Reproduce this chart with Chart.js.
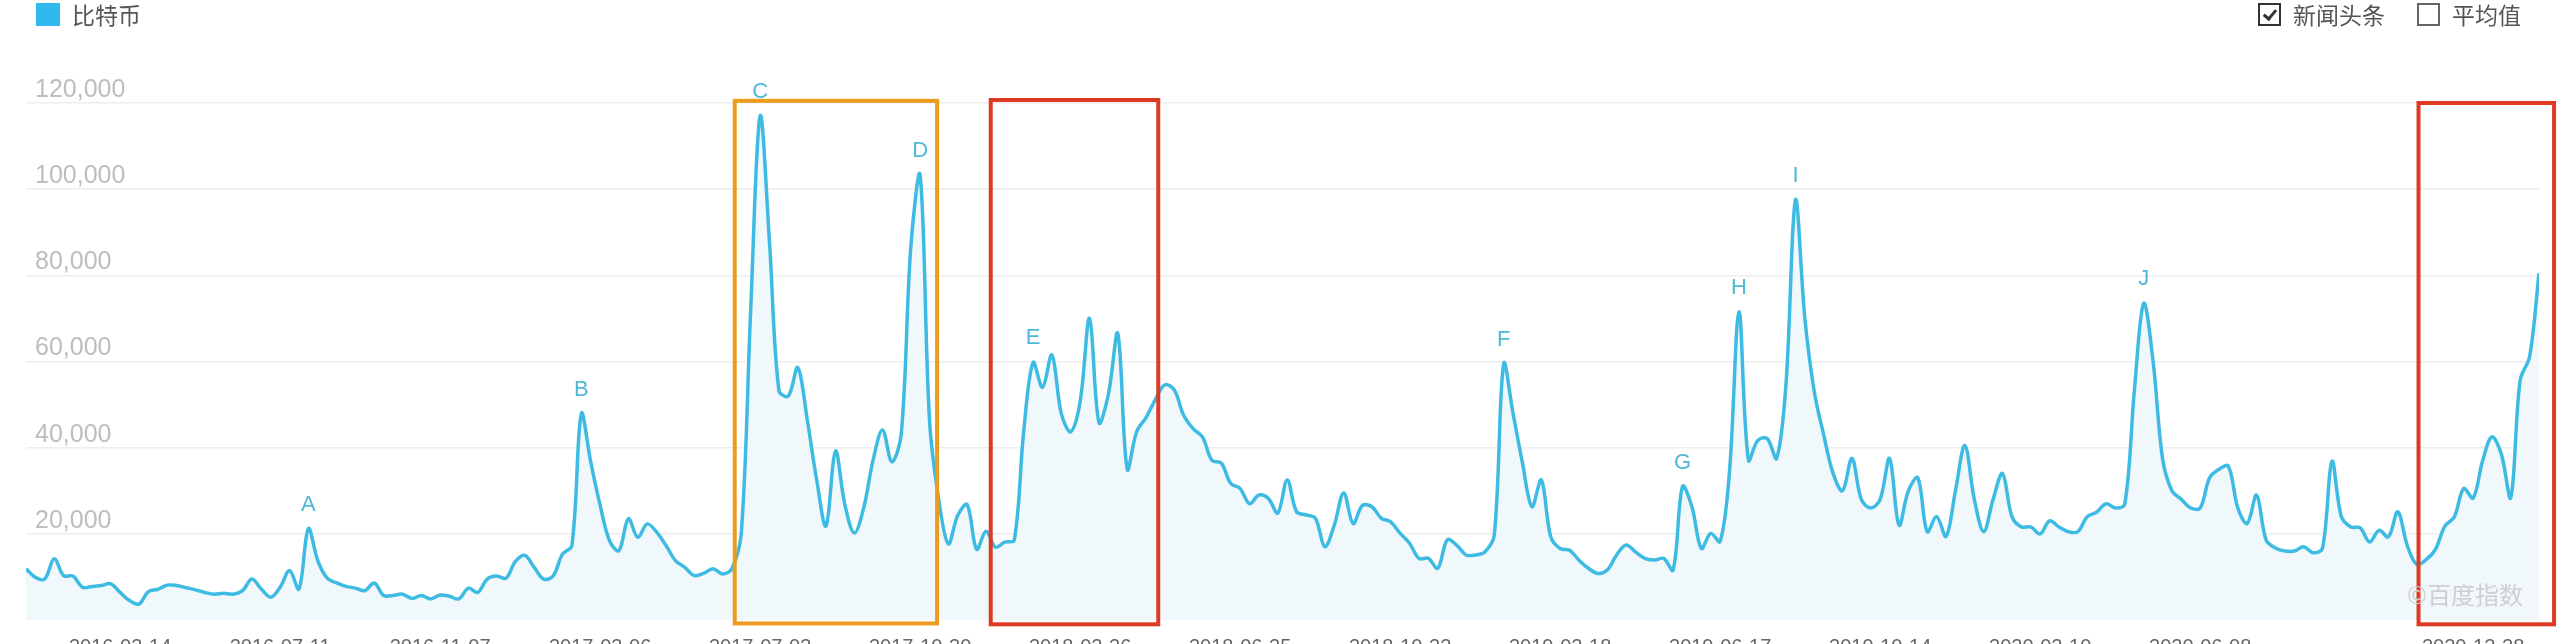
<!DOCTYPE html>
<html>
<head>
<meta charset="utf-8">
<script src="https://cdn.jsdelivr.net/npm/chart.js@4.4.1/dist/chart.umd.min.js"></script>
<style>
  html, body { margin: 0; padding: 0; background: #fff; }
  #wrap { position: relative; width: 2564px; height: 644px; overflow: hidden; }
  #chart { position: absolute; left: 0; top: 0; }
  .legend { position: absolute; left: 36px; top: 1px; height: 26px; display: flex; align-items: center;
    font: 23px "Noto Sans CJK SC", sans-serif; color: #555; }
  .sw { width: 24px; height: 23px; background: #30b8ef; margin-right: 12px; }
  .opts { position: absolute; left: 2258px; top: 1px; height: 26px; display: flex; align-items: center;
    font: 23px "Noto Sans CJK SC", sans-serif; color: #555; }
  .cb { box-sizing: border-box; width: 23px; height: 23px; border: 2px solid #333; margin-right: 12px; position: relative; }
  .cb.off { border-color: #666; margin-left: 32px; }
  .cb.on::after { content: ""; position: absolute; left: 6px; top: 2px; width: 5px; height: 10px;
    border: solid #333; border-width: 0 3px 3px 0; transform: rotate(40deg); }
  .mark { position: absolute; left: 2407px; top: 576px; font: 24px "Noto Sans CJK SC", sans-serif; color: #cfcfcf; }
</style>
</head>
<body>
<div id="wrap">
  <canvas id="chart" width="2564" height="644"></canvas>
  <div class="legend"><div class="sw"></div>比特币</div>
  <div class="opts"><div class="cb on"></div>新闻头条<div class="cb off"></div>平均值</div>
  <div class="mark">©百度指数</div>
</div>
<script>
// weekly search index, first week 2016-01-04
const values = [
  11900, 9900, 9500, 14200, 10300, 10200, 7600, 7800, 8000, 8400,
  6400, 4500, 3700, 6600, 7100, 8100, 8000, 7500, 7000, 6400,
  6000, 6200, 6000, 6800, 9500, 7200, 5300, 7600, 11500, 7200,
  21200, 13800, 9700, 8600, 7800, 7400, 6800, 8600, 5700, 5700,
  6000, 5000, 5700, 4900, 5800, 5500, 4900, 7400, 6400, 9500,
  10200, 9700, 13600, 15000, 12200, 9500, 10200, 15300, 17300, 47900,
  36700, 26600, 18400, 16100, 23500, 19200, 22300, 20400, 17300, 13800,
  12200, 10300, 10800, 11900, 10700, 11900, 20200, 72200, 117000, 87500,
  53200, 52000, 58600, 46600, 32600, 21800, 39200, 26800, 20200, 26000,
  37100, 44100, 36700, 43300, 86300, 103200, 46200, 27600, 17700, 24300,
  26800, 16400, 20600, 16900, 18100, 18500, 43700, 59800, 54000, 61500,
  47900, 43700, 50700, 70000, 45800, 52400, 66500, 35000, 43700, 47000,
  51200, 54600, 53400, 47500, 44400, 42500, 37100, 36400, 31700, 30500,
  27000, 29000, 28200, 24800, 32500, 25100, 24400, 23600, 17000, 22000,
  29500, 22400, 26600, 26300, 23600, 22800, 20100, 17800, 14300, 14300,
  12000, 18600, 17400, 15100, 15100, 15800, 19700, 59500, 47900, 36400,
  26300, 32500, 19300, 16600, 16200, 13900, 12000, 10800, 11600, 15100,
  17400, 15800, 14300, 13900, 14300, 11600, 31000, 26300, 16600, 20100,
  18200, 34700, 71500, 37100, 41700, 42100, 37500, 54900, 97500, 70000,
  53000, 43000, 34000, 30000, 37500, 28000, 26000, 28000, 37500, 22000,
  30000, 33000, 20500, 24000, 19400, 30000, 40500, 28000, 20500, 28000,
  34000, 24000, 21600, 21600, 20000, 23000, 21600, 20500, 20500, 24000,
  25000, 27000, 26000, 27000, 53000, 73500, 60000, 37500, 30000, 28000,
  26000, 26000, 33000, 35000, 35700, 26000, 22400, 29000, 18600, 16700,
  16000, 16000, 17000, 15600, 16700, 36800, 24000, 21600, 21400, 18100,
  20800, 19300, 25100, 17300, 12900, 14000, 16400, 21800, 23900, 30500,
  28300, 36900, 42500, 38500, 28400, 55700, 61100, 80500
];

const tickIndex = [10, 27, 44, 61, 78, 95, 112, 129, 146, 163, 180, 197, 214, 231, 260];
const tickDates = ['2016-03-14', '2016-07-11', '2016-11-07', '2017-03-06', '2017-07-03', '2017-10-30',
  '2018-02-26', '2018-06-25', '2018-10-22', '2019-02-18', '2019-06-17', '2019-10-14',
  '2020-02-10', '2020-06-08', '2020-12-28'];
const yTicks = [0, 20000, 40000, 60000, 80000, 100000, 120000];

// news headline markers
const newsLetters = ['A', 'B', 'C', 'D', 'E', 'F', 'G', 'H', 'I', 'J'];
const newsIndex = [30, 59, 78, 95, 107, 157, 176, 182, 188, 225];

// hand-drawn highlight boxes (in week index / value units)
const boxFrom = [75.3, 102.5, 254.2];
const boxTo = [96.8, 120.3, 268.6];
const boxTop = [120500, 120700, 120000];
const boxBottom = [-800, -1000, -1000];
const boxColor = ['#eb9b1e', '#de3a22', '#de3a22'];

const LINE = '#3dbbe2';

const newsPlugin = {
  id: 'news',
  afterDatasetsDraw(chart) {
    const { ctx, scales: { x, y } } = chart;
    ctx.save();
    ctx.font = '22px "Liberation Sans", Arial, sans-serif';
    ctx.fillStyle = '#4fb7d7';
    ctx.textAlign = 'center';
    ctx.textBaseline = 'bottom';
    newsIndex.forEach((idx, k) => {
      ctx.fillText(newsLetters[k], x.getPixelForValue(idx), y.getPixelForValue(values[idx]) - 13);
    });
    ctx.restore();
  },
};

const boxPlugin = {
  id: 'boxes',
  afterDraw(chart) {
    const { ctx, scales: { x, y } } = chart;
    ctx.save();
    ctx.lineWidth = 4;
    boxFrom.forEach((from, k) => {
      const l = x.getPixelForValue(from), r = x.getPixelForValue(boxTo[k]);
      const t = y.getPixelForValue(boxTop[k]), b = y.getPixelForValue(boxBottom[k]);
      ctx.strokeStyle = boxColor[k];
      ctx.strokeRect(l, t, r - l, b - t);
    });
    ctx.restore();
  },
};

new Chart(document.getElementById('chart'), {
  type: 'line',
  data: {
    datasets: [{
      label: '比特币',
      data: values.map((v, i) => ({ x: i, y: v })),
      borderColor: LINE,
      borderWidth: 3.5,
      pointRadius: 0,
      tension: 0.35,
      fill: 'origin',
      backgroundColor: '#f0f8fc',
    }],
  },
  options: {
    responsive: false,
    animation: false,
    layout: { padding: { left: 26, right: 25, top: 103, bottom: 0 } },
    plugins: { legend: { display: false }, tooltip: { enabled: false } },
    scales: {
      x: {
        type: 'linear',
        min: 0,
        max: values.length - 1,
        grid: { display: false, drawTicks: false },
        border: { display: false },
        afterFit: (s) => { s.height = 24; },
        afterBuildTicks: (s) => { s.ticks = tickIndex.map((v) => ({ value: v })); },
        ticks: {
          autoSkip: false,
          maxRotation: 0,
          padding: 15,
          color: '#666',
          font: { family: '"Liberation Sans", Arial, sans-serif', size: 20 },
          callback: (v) => tickDates[tickIndex.indexOf(v)],
        },
      },
      y: {
        min: 0,
        max: 120000,
        border: { display: false },
        afterFit: (s) => { s.width = 0; },
        afterBuildTicks: (s) => { s.ticks = yTicks.map((v) => ({ value: v })); },
        grid: {
          drawTicks: false,
          lineWidth: 1.5,
          color: (c) => (c.tick && c.tick.value === 0 ? 'rgba(0,0,0,0)' : '#ededed'),
        },
        ticks: {
          mirror: true,
          padding: 9,
          labelOffset: -13,
          color: '#bdbdbd',
          font: { family: '"Liberation Sans", Arial, sans-serif', size: 25 },
          callback: (v) => (v === 0 ? '' : v.toLocaleString('en-US')),
        },
      },
    },
  },
  plugins: [newsPlugin, boxPlugin],
});
</script>
</body>
</html>
